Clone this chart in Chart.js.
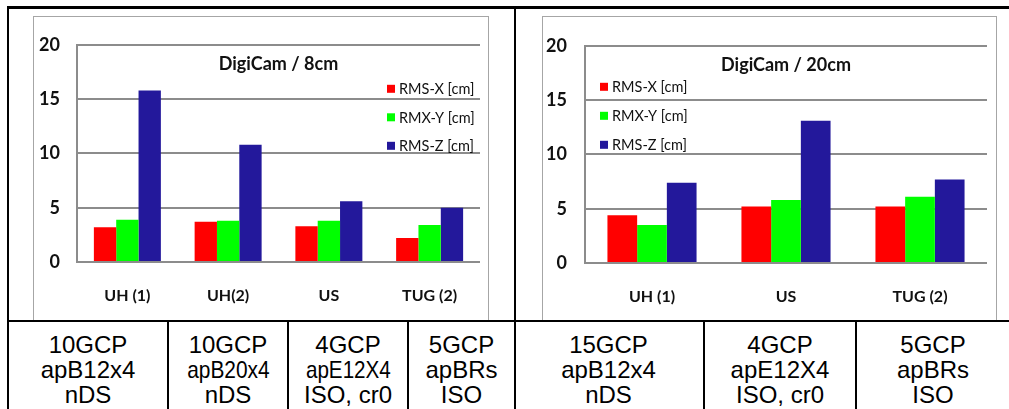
<!DOCTYPE html>
<html>
<head>
<meta charset="utf-8">
<script src="https://cdn.jsdelivr.net/npm/chart.js@4"></script>
<style>
  html, body { margin:0; padding:0; background:#fff; }
  #wrap { position:relative; width:1009px; height:409px; overflow:hidden; background:#fff; }
  .bk { position:absolute; background:#000; }
  .gbox { position:absolute; border:1px solid #a6a6a6; border-bottom:none; box-sizing:border-box; }
  .cv { position:absolute; }
  .cell { position:absolute; top:322px; height:87px; text-align:center;
          font-family:"Liberation Sans", Arial, sans-serif; font-size:24px; line-height:25px; color:#000; }
  .cell .ln { display:block; white-space:nowrap; }
  .cell .ln span { display:inline-block; transform-origin:center; }
</style>
</head>
<body>
<div id="wrap">
  <div class="gbox" style="left:33px; top:16px; width:456px; height:305px;"></div>
  <div class="gbox" style="left:542px; top:16px; width:455px; height:305px;"></div>
  <div class="cv" style="left:34px; top:17px; width:454px; height:303px;"><canvas id="c1" width="454" height="303"></canvas></div>
  <div class="cv" style="left:544px; top:17px; width:452px; height:303px;"><canvas id="c2" width="452" height="303"></canvas></div>
  <div class="bk" style="left:7px; top:6px; width:1002px; height:3px;"></div>
  <div class="bk" style="left:7px; top:6px; width:2px; height:403px;"></div>
  <div class="bk" style="left:514px; top:6px; width:2px; height:403px;"></div>
  <div class="bk" style="left:7px; top:320px; width:1002px; height:2px;"></div>
  <div id="cells"></div>
</div>
<script>
// ---- data ----
const seriesLabels = ['RMS-X [cm]', 'RMX-Y [cm]', 'RMS-Z [cm]'];
const seriesColors = ['#ff0000', '#00ff00', '#23189b'];

const titleA = 'DigiCam / 8cm';
const categoriesA = ['UH (1)', 'UH(2)', 'US', 'TUG (2)'];
const rmsXA = [3.2, 3.7, 3.3, 2.2];
const rmsYA = [3.9, 3.8, 3.8, 3.4];
const rmsZA = [15.8, 10.8, 5.6, 5.0];

const titleB = 'DigiCam / 20cm';
const categoriesB = ['UH (1)', 'US', 'TUG (2)'];
const rmsXB = [4.4, 5.2, 5.2];
const rmsYB = [3.5, 5.8, 6.1];
const rmsZB = [7.4, 13.1, 7.7];

const yTicks = [0, 5, 10, 15, 20];

const tableLines = [
  ['10GCP', 'apB12x4', 'nDS'],
  ['10GCP', 'apB20x4', 'nDS'],
  ['4GCP', 'apE12X4', 'ISO, cr0'],
  ['5GCP', 'apBRs', 'ISO'],
  ['15GCP', 'apB12x4', 'nDS'],
  ['4GCP', 'apE12X4', 'ISO, cr0'],
  ['5GCP', 'apBRs', 'ISO']
];

// ---- table layout ----
const cellEdges = [9, 167, 287, 407, 514, 703, 855, 1009];
const squeeze = { '1-1': 0.87, '2-1': 0.86 };
const cellsDiv = document.getElementById('cells');
tableLines.forEach((lines, i) => {
  const d = document.createElement('div');
  d.className = 'cell';
  const l = cellEdges[i] + (i === 0 || i === 4 ? 0 : 2);
  d.style.left = l + 'px';
  d.style.width = (cellEdges[i + 1] - l) + 'px';
  d.style.paddingTop = '10px';
  lines.forEach((t, j) => {
    const ln = document.createElement('span');
    ln.className = 'ln';
    const s = document.createElement('span');
    s.textContent = t;
    const k = squeeze[i + '-' + j];
    if (k) s.style.transform = 'scaleX(' + k + ')';
    ln.appendChild(s);
    d.appendChild(ln);
  });
  cellsDiv.appendChild(d);
  if (i > 0 && i !== 4) {
    const v = document.createElement('div');
    v.className = 'bk';
    v.style.cssText = 'left:' + cellEdges[i] + 'px; top:320px; width:2px; height:89px;';
    document.getElementById('wrap').appendChild(v);
  }
});

// ---- charts ----
const fontFam = 'Lato, "Open Sans", sans-serif';
const gridCol = '#8c8c8c';
const textCol = '#111';

function overlayPlugin(title, legendSide) {
  return {
    id: 'overlay',
    afterDraw(chart) {
      const ctx = chart.ctx, a = chart.chartArea;
      ctx.save();
      ctx.fillStyle = textCol;
      ctx.font = 'bold 18px ' + fontFam;
      ctx.textAlign = 'center';
      ctx.textBaseline = 'middle';
      ctx.fillText(title, (a.left + a.right) / 2, a.top + 19);
      ctx.font = '14.5px ' + fontFam;
      ctx.textAlign = 'left';
      chart.data.datasets.forEach((ds, i) => {
        let x, y;
        if (legendSide === 'right') { x = a.right - 93; y = a.top + 44 + i * 28.5; }
        else { x = a.left + 15; y = a.top + 41 + i * 29; }
        ctx.fillStyle = ds.backgroundColor;
        ctx.fillRect(x, y - 4, 8, 8);
        ctx.fillStyle = textCol;
        ctx.fillText(ds.label, x + 12, y + 1);
      });
      ctx.restore();
    }
  };
}

function makeChart(id, cats, xs, ys, zs, title, legendSide, yw, padR, xh, tickPad) {
  const values = [xs, ys, zs];
  new Chart(document.getElementById(id), {
    type: 'bar',
    data: {
      labels: cats,
      datasets: seriesLabels.map((lab, i) => ({
        label: lab,
        data: values[i],
        backgroundColor: seriesColors[i],
        borderWidth: 0,
        categoryPercentage: 0.665,
        barPercentage: 1.0
      }))
    },
    options: {
      responsive: false,
      animation: false,
      events: [],
      layout: { padding: { top: 26, right: padR, left: 0, bottom: 0 } },
      plugins: { legend: { display: false }, tooltip: { enabled: false }, title: { display: false } },
      scales: {
        x: {
          grid: { display: false, drawTicks: false },
          border: { display: false },
          ticks: { color: textCol, font: { family: fontFam, size: 16, weight: 'bold' }, padding: 24, maxRotation: 0 },
          afterFit(s) { s.height = xh; }
        },
        y: {
          min: 0, max: 20,
          afterBuildTicks(s) { s.ticks = yTicks.map(v => ({ value: v })); },
          grid: { color: gridCol, lineWidth: 2, drawTicks: false },
          border: { display: true, color: gridCol, width: 2 },
          ticks: { color: textCol, font: { family: fontFam, size: 18, weight: 'bold' }, padding: tickPad },
          afterFit(s) { s.width = yw; }
        }
      }
    },
    plugins: [overlayPlugin(title, legendSide)]
  });
}

makeChart('c1', categoriesA, rmsXA, rmsYA, rmsZA, titleA, 'right', 43, 8, 58, 17);
makeChart('c2', categoriesB, rmsXB, rmsYB, rmsZB, titleB, 'left', 41, 9, 57, 18);
</script>
</body>
</html>
